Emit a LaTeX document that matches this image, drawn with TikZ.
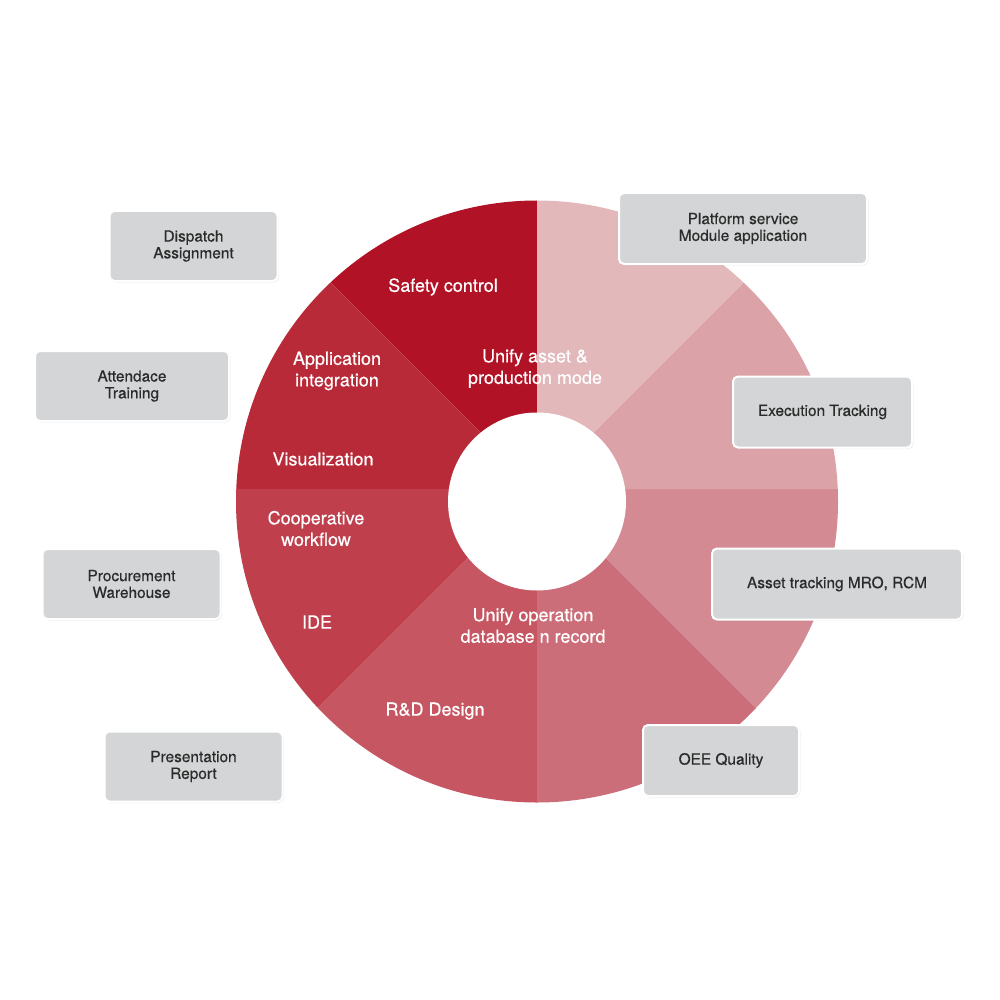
\documentclass[tikz,border=0pt]{standalone}
\usepackage{fontspec}
\setmainfont{TeX Gyre Heros}[FakeBold=0.45]
\usetikzlibrary{shadows}
\definecolor{sA}{HTML}{B11226}
\definecolor{sB}{HTML}{B82A38}
\definecolor{sC}{HTML}{BF3F4D}
\definecolor{sD}{HTML}{C55662}
\definecolor{sE}{HTML}{CB6E79}
\definecolor{sF}{HTML}{D38A92}
\definecolor{sG}{HTML}{DBA2A7}
\definecolor{sH}{HTML}{E3B8BB}
\definecolor{boxgray}{HTML}{D3D5D6}
\definecolor{boxtext}{HTML}{2B2B2B}
\begin{document}
\begin{tikzpicture}[x=1pt,y=-1pt,
  seg/.style={text=white,font=\fontsize{18}{21.5}\selectfont,align=center,inner sep=0pt},
  infobox/.style={fill=boxgray,draw=white,line width=2pt,rounded corners=5pt,
    align=center,text=boxtext,font=\fontsize{15.4}{16.8}\selectfont,inner sep=0pt,
    drop shadow={shadow xshift=1.5pt,shadow yshift=-1.5pt,opacity=0.12}}]
\useasboundingbox (0,0) rectangle (1000,1000);
\coordinate (P) at (537,489);
\coordinate (C) at (537,501.5);
\begin{scope}
\clip (C) circle[radius=301];
\fill[sA] (P) -- +(-90:600) -- +(-135:600) -- cycle;
\fill[sB] (P) -- +(-135:600) -- +(-180:600) -- cycle;
\fill[sC] (P) -- +(-180:600) -- +(-225:600) -- cycle;
\fill[sD] (P) -- +(-225:600) -- +(-270:600) -- cycle;
\fill[sE] (P) -- +(-270:600) -- +(-315:600) -- cycle;
\fill[sF] (P) -- +(-315:600) -- +(-360:600) -- cycle;
\fill[sG] (P) -- +(0:600) -- +(-45:600) -- cycle;
\fill[sH] (P) -- +(-45:600) -- +(-90:600) -- cycle;
\end{scope}
\fill[white] (C) circle[radius=89];

\node[seg] (safety) at (443,287) {Safety control};
\node[seg] (appint) at (337,371) {Application\\integration};
\node[seg] (visual) at (323,459) {Visualization};
\node[seg] (unifyA) at (535,368.5) {Unify asset \&\\production mode};
\node[seg] (coop) at (316,528.5) {Cooperative\\workflow};
\node[seg] (ide) at (317,622) {IDE};
\node[seg] (rnd) at (435,711) {R\&D Design};
\node[seg] (unifyO) at (533,625.5) {Unify operation\\database n record};

\node[infobox,minimum width=168pt,minimum height=70pt] (dispatch) at (193.5,246) {Dispatch\\Assignment};
\node[infobox,minimum width=194pt,minimum height=70pt] (attend) at (132,386) {Attendace\\Training};
\node[infobox,minimum width=178pt,minimum height=70pt] (procure) at (131.5,584) {Procurement\\Warehouse};
\node[infobox,minimum width=178pt,minimum height=70pt] (present) at (193.5,766.5) {Presentation\\Report};
\node[infobox,minimum width=248pt,minimum height=71pt] (platform) at (743,228.5) {Platform service\\Module application};
\node[infobox,minimum width=179pt,minimum height=71pt] (exec) at (822.5,412) {Execution Tracking};
\node[infobox,minimum width=250pt,minimum height=71pt] (asset) at (837,584) {Asset tracking MRO, RCM};
\node[infobox,minimum width=156pt,minimum height=71pt] (oee) at (721,760.5) {OEE Quality};
\end{tikzpicture}
\end{document}
